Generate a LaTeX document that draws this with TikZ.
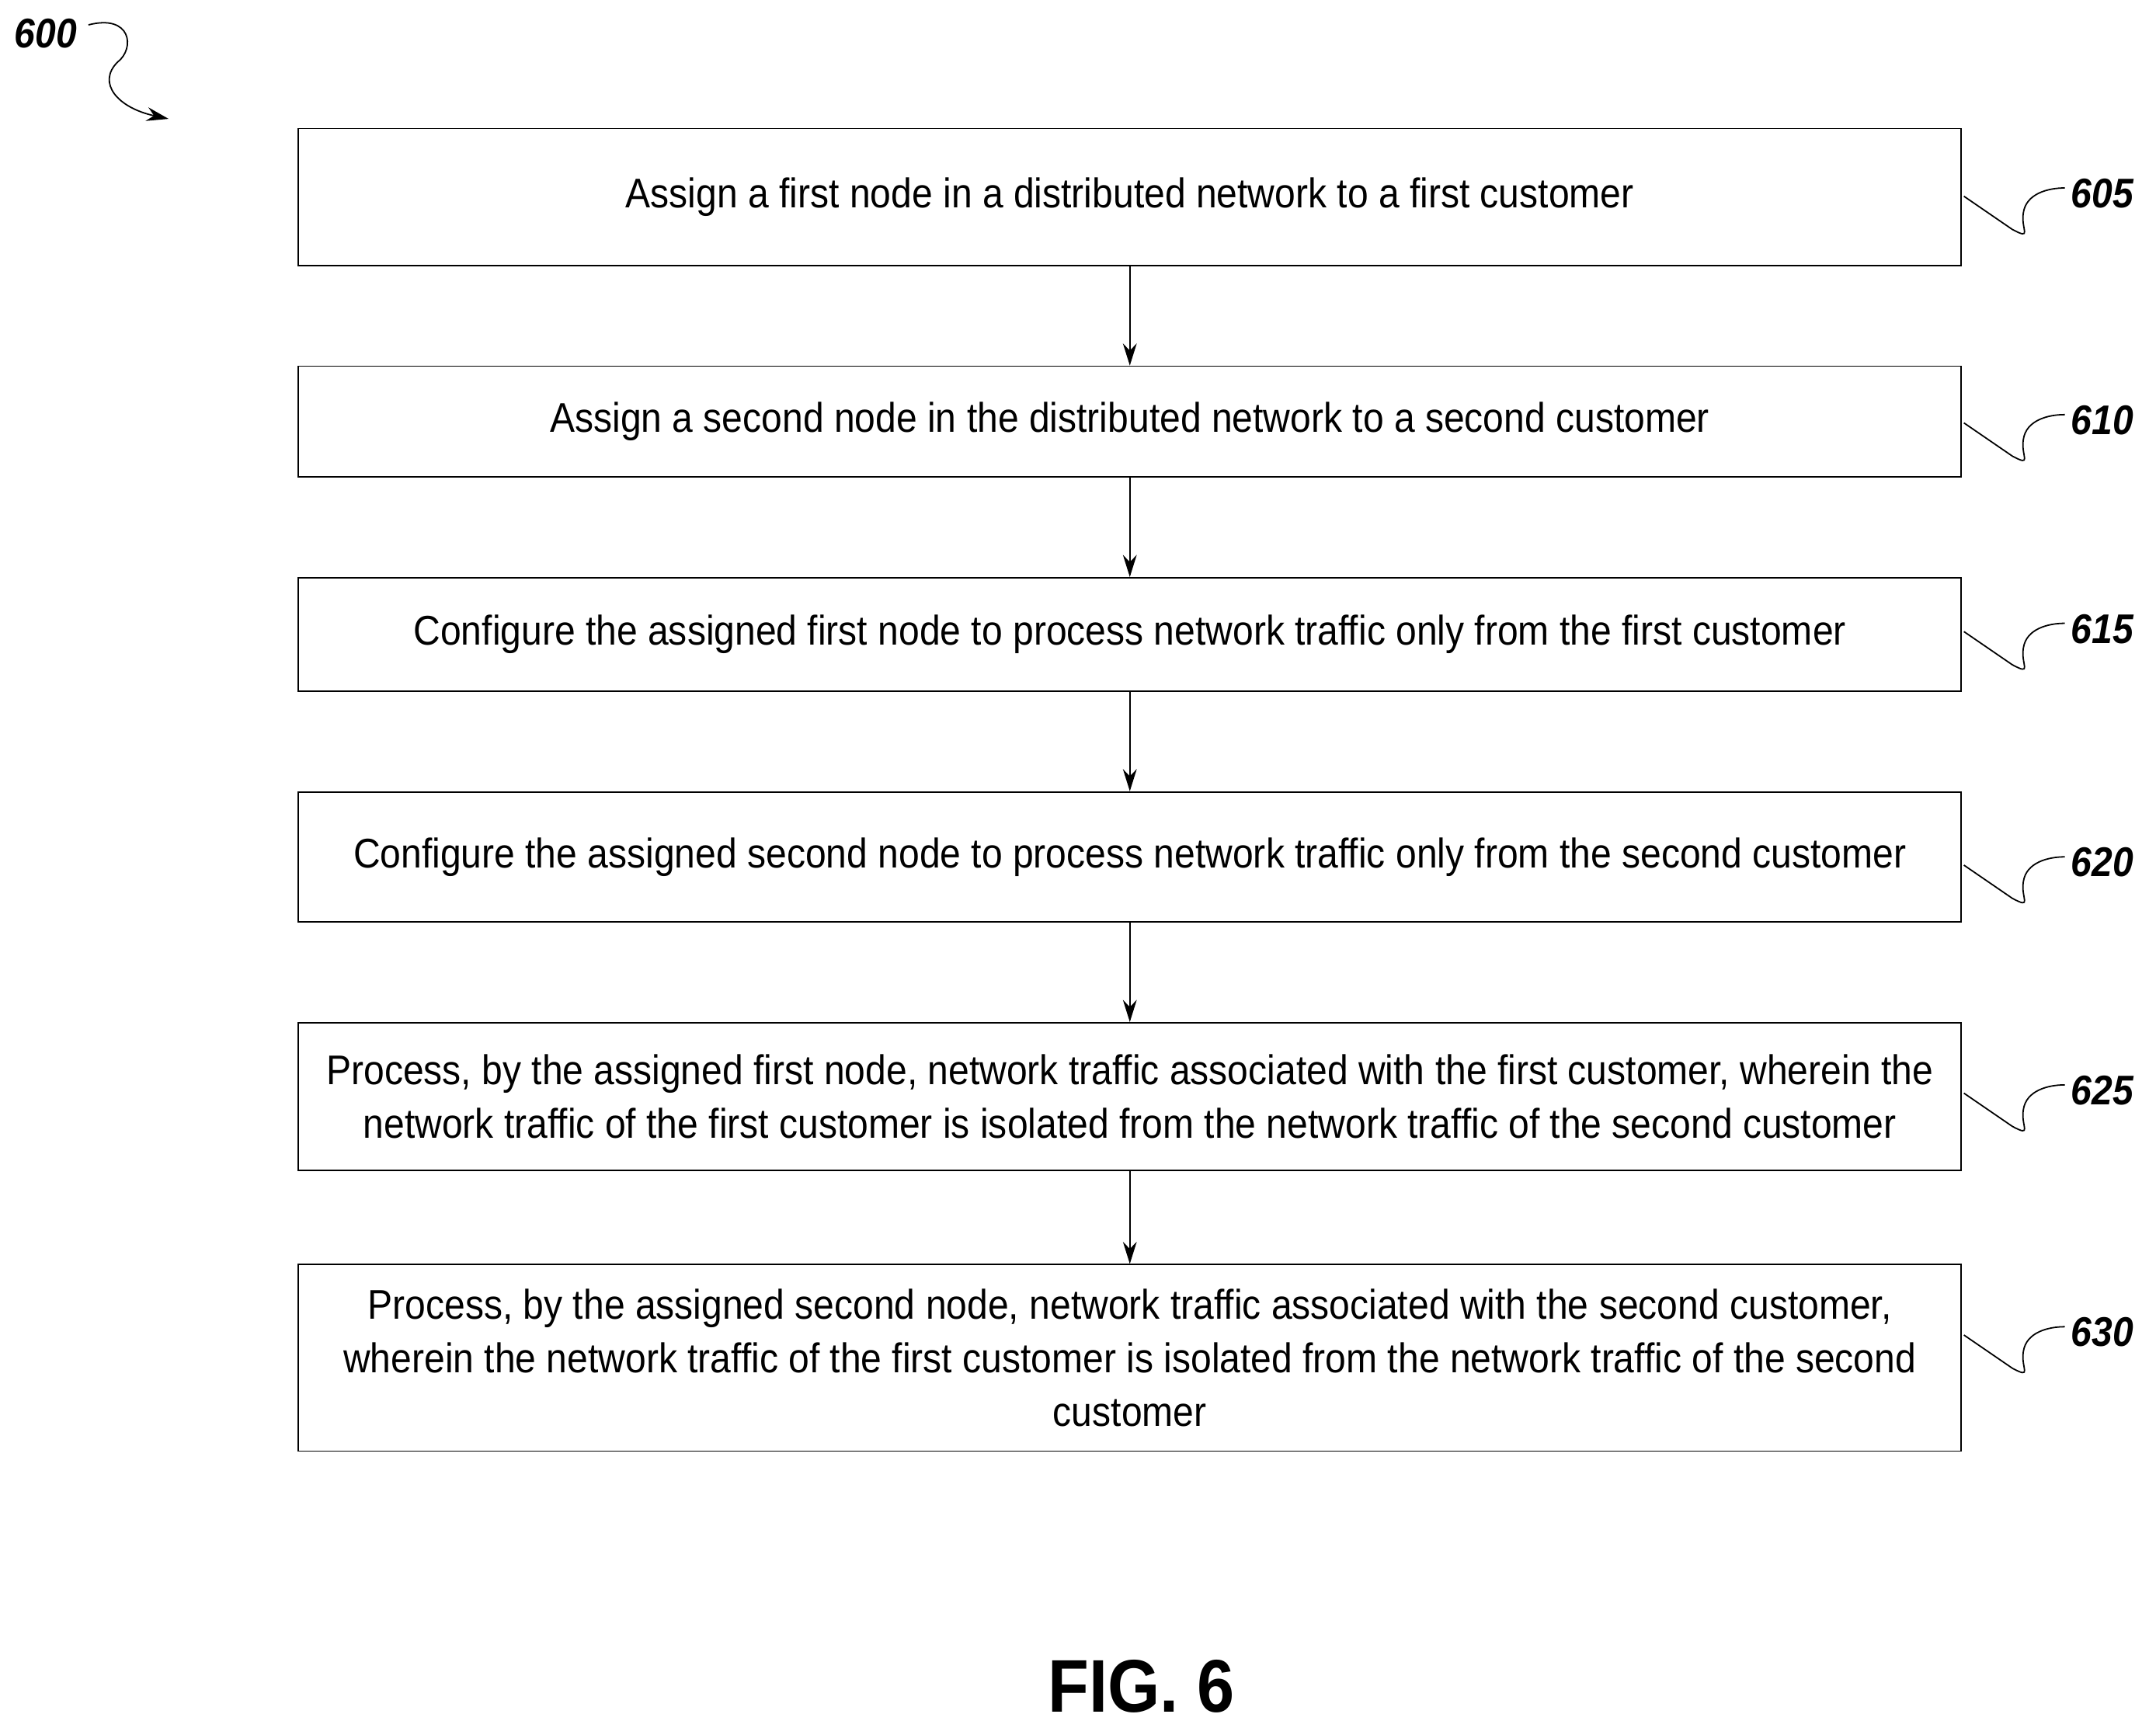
\documentclass[tikz,border=0pt]{standalone}
\usepackage{fontspec}
\usetikzlibrary{arrows.meta}
\setmainfont{Liberation Sans}[FakeStretch=0.9]
\begin{document}
\begin{tikzpicture}[x=1pt,y=-1pt,
 box/.style={draw,line width=1pt,align=center,font=\fontsize{30}{39}\selectfont},
 lbl/.style={font=\fontsize{30}{32}\selectfont\bfseries\itshape},
 arr/.style={-{Stealth[length=16pt,width=10pt]},line width=1pt},
 sq/.style={line width=1pt}]
\useasboundingbox (0,0) rectangle (1560,1245);
\newcommand\mybox[4]{\node[box,minimum width=1203pt,minimum height=#3pt,inner sep=0pt] (#1) at (817.5,#2) {#4};}
\mybox{b1}{142.5}{99}{Assign a first node in a distributed network to a first customer}
\mybox{b2}{305}{80}{Assign a second node in the distributed network to a second customer}
\mybox{b3}{459}{82}{Configure the assigned first node to process network traffic only from the first customer}
\mybox{b4}{620}{94}{Configure the assigned second node to process network traffic only from the second customer}
\mybox{b5}{793.5}{107}{Process, by the assigned first node, network traffic associated with the first customer, wherein the\\network traffic of the first customer is isolated from the network traffic of the second customer}
\mybox{b6}{982.5}{135}{Process, by the assigned second node, network traffic associated with the second customer,\\wherein the network traffic of the first customer is isolated from the network traffic of the second\\customer}
\draw[arr] (b1) -- (b2);
\draw[arr] (b2) -- (b3);
\draw[arr] (b3) -- (b4);
\draw[arr] (b4) -- (b5);
\draw[arr] (b5) -- (b6);
\foreach \n/\y/\t in {b1/142/605,b2/306/610,b3/457/615,b4/626/620,b5/791/625,b6/966/630}{
  \coordinate (s\n) at (1421,\y);
  \node[lbl,anchor=west] (l\n) at (1495,\y-2) {\t};
  \draw[sq] (s\n) -- ++(35,24) .. controls ++(15,8) and ++(-2,12) .. ++(8,-12) .. controls ++(2,-14) and ++(-12,0) .. ++(30,-18);
}
\node[lbl] (l600) at (33,24) {600};
\coordinate (a600) at (122,86);
\draw[sq,-{Stealth[length=16pt,width=10pt]}] (64,18) .. controls (95,10) and (98,35) .. (85,45) .. controls (70,60) and (85,78) .. (a600);
\node[font=\fontsize{54}{58}\selectfont\bfseries] (fig) at (826,1220) {FIG. 6};
\end{tikzpicture}
\end{document}
